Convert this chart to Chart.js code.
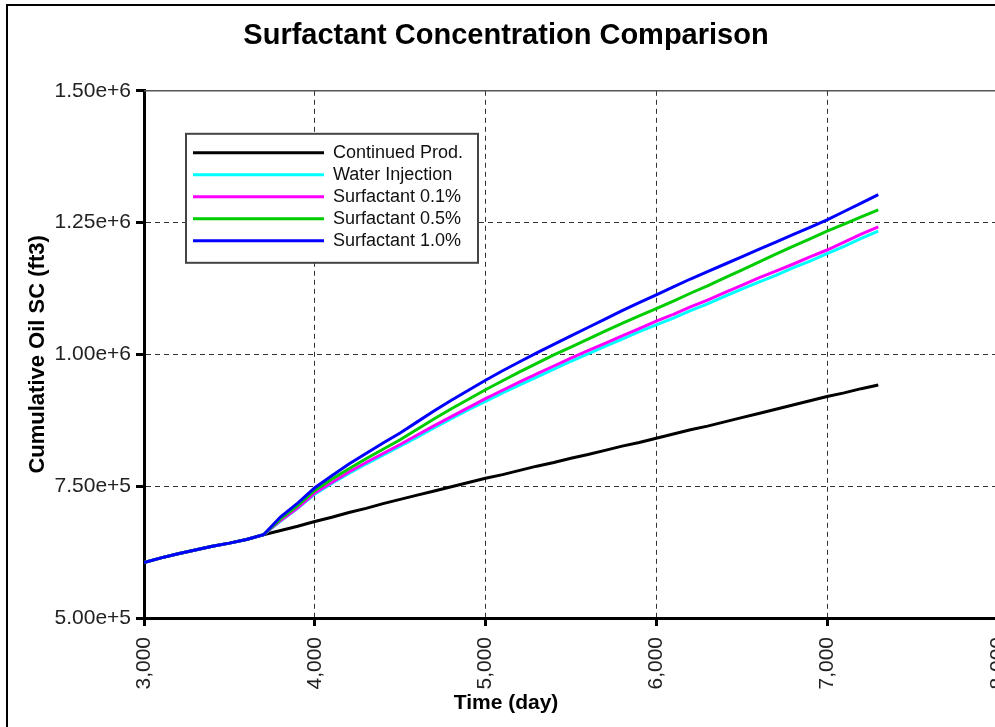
<!doctype html>
<html>

<head>
  <title>Surfactant Concentration Comparison</title>
  <script src="https://cdn.jsdelivr.net/npm/chart.js@4/dist/chart.umd.min.js"></script>
  <style>
    html, body { margin: 0; padding: 0; background: #fff; overflow: hidden; }
    #wrap { position: relative; width: 995px; height: 727px; overflow: hidden; }
    #canvas { display: block; }
    #frame {
      position: absolute; left: 6px; top: 4px; right: -10px; bottom: -10px;
      border-left: 2px solid #000; border-top: 2px solid #000;
      pointer-events: none;
    }
  </style>
</head>

<body>
  <div id="wrap">
    <canvas id="canvas" width="1034" height="727"></canvas>
    <div id="frame"></div>
  </div>

  <script>
    var chartTitle = "Surfactant Concentration Comparison";
    var xTitle = "Time (day)";
    var yTitle = "Cumulative Oil SC (ft3)";

    var days = [3000, 3100, 3200, 3300, 3400, 3500, 3600, 3700, 3800, 3900,
                4000, 4100, 4200, 4300, 4400, 4500, 4600, 4700, 4800, 4900,
                5000, 5100, 5200, 5300, 5400, 5500, 5600, 5700, 5800, 5900,
                6000, 6100, 6200, 6300, 6400, 6500, 6600, 6700, 6800, 6900,
                7000, 7100, 7200, 7300];

    var continuedProd = [605000, 614000, 622000, 629000, 636000, 642000, 649000, 658000, 666000, 674000,
                         683000, 691000, 700000, 708000, 717000, 725000, 733000, 741000, 749000, 757000,
                         765000, 772000, 780000, 788000, 795000, 803000, 810000, 818000, 826000, 833000,
                         841000, 849000, 857000, 864000, 872000, 880000, 888000, 896000, 904000, 912000,
                         920000, 927000, 935000, 942000];

    var waterInjection = [605000, 614000, 622000, 629000, 636000, 642000, 649000, 658000, 684000, 708000,
                          735000, 755000, 774000, 792000, 809000, 826000, 843000, 861000, 878000, 895000,
                          911000, 927000, 942000, 957000, 972000, 987000, 1001000, 1015000, 1029000, 1043000,
                          1056000, 1069000, 1083000, 1096000, 1110000, 1124000, 1137000, 1150000, 1164000, 1177000,
                          1191000, 1205000, 1220000, 1234000];

    var surf01 = [605000, 614000, 622000, 629000, 636000, 642000, 649000, 658000, 685000, 709000,
                  737000, 757000, 777000, 795000, 812000, 829000, 847000, 865000, 882000, 899000,
                  916000, 932000, 948000, 963000, 978000, 993000, 1007000, 1021000, 1035000, 1049000,
                  1063000, 1076000, 1090000, 1103000, 1117000, 1131000, 1145000, 1158000, 1171000, 1185000,
                  1198000, 1213000, 1228000, 1242000];

    var surf05 = [605000, 614000, 622000, 629000, 636000, 642000, 649000, 658000, 688000, 713000,
                  742000, 763000, 783000, 802000, 820000, 838000, 858000, 878000, 897000, 915000,
                  933000, 950000, 967000, 983000, 999000, 1014000, 1029000, 1044000, 1059000, 1073000,
                  1087000, 1101000, 1116000, 1130000, 1145000, 1160000, 1175000, 1190000, 1205000, 1219000,
                  1234000, 1247000, 1261000, 1274000];

    var surf10 = [605000, 614000, 622000, 629000, 636000, 642000, 649000, 658000, 692000, 718000,
                  747000, 770000, 792000, 812000, 832000, 851000, 872000, 893000, 913000, 932000,
                  951000, 969000, 986000, 1003000, 1019000, 1035000, 1051000, 1067000, 1083000, 1098000,
                  1113000, 1128000, 1143000, 1157000, 1171000, 1185000, 1199000, 1213000, 1227000, 1241000,
                  1255000, 1271000, 1287000, 1303000];

    var seriesNames = ["Continued Prod.", "Water Injection", "Surfactant 0.1%", "Surfactant 0.5%", "Surfactant 1.0%"];
    var seriesColors = ["#000000", "#00ffff", "#ff00ff", "#00cc00", "#0000ff"];
    var seriesValues = [continuedProd, waterInjection, surf01, surf05, surf10];

    var xMin = 3000, xMax = 8000, xStep = 1000;
    var yMin = 500000, yMax = 1500000, yStep = 250000;

    var FONT = "'Liberation Sans', Arial, sans-serif";

    function toPoints(values) {
      return values.map(function (v, i) { return { x: days[i], y: v }; });
    }

    var datasets = seriesValues.map(function (values, i) {
      return {
        label: seriesNames[i],
        data: toPoints(values),
        borderColor: seriesColors[i],
        backgroundColor: seriesColors[i],
        borderWidth: 3,
        pointRadius: 0,
        tension: 0,
        fill: false,
        order: seriesValues.length - i
      };
    });

    // legend box drawn inside the plot, like the original
    var boxLegend = {
      id: 'boxLegend',
      afterDraw: function (chart) {
        var ctx = chart.ctx, area = chart.chartArea;
        var x = area.left + 42, y = area.top + 43, w = 292, h = 129;
        ctx.save();
        ctx.fillStyle = '#fff';
        ctx.fillRect(x, y, w, h);
        ctx.strokeStyle = '#444';
        ctx.lineWidth = 2;
        ctx.strokeRect(x, y, w, h);
        ctx.font = '18px ' + FONT;
        ctx.textBaseline = 'middle';
        ctx.textAlign = 'left';
        chart.data.datasets.forEach(function (ds, i) {
          var ly = y + 19 + i * 22;
          ctx.strokeStyle = ds.borderColor;
          ctx.lineWidth = 3;
          ctx.beginPath();
          ctx.moveTo(x + 7, ly);
          ctx.lineTo(x + 138, ly);
          ctx.stroke();
          ctx.fillStyle = '#111';
          ctx.fillText(ds.label, x + 147, ly);
        });
        ctx.restore();
      }
    };

    // top frame line of the plot and the x axis title
    var extras = {
      id: 'extras',
      afterDraw: function (chart) {
        var ctx = chart.ctx, area = chart.chartArea;
        ctx.save();
        ctx.strokeStyle = '#555';
        ctx.lineWidth = 1.5;
        ctx.beginPath();
        ctx.moveTo(area.left, area.top);
        ctx.lineTo(area.right, area.top);
        ctx.stroke();

        var tb = chart.titleBlock;
        var cx = tb ? (tb.left + tb.right) / 2 : chart.width / 2;
        ctx.font = 'bold 21px ' + FONT;
        ctx.fillStyle = '#000';
        ctx.textAlign = 'center';
        ctx.textBaseline = 'middle';
        ctx.fillText(xTitle, cx, 703);
        ctx.restore();
      }
    };

    var chart = new Chart("canvas", {
      type: 'line',
      data: { datasets: datasets },
      plugins: [boxLegend, extras],
      options: {
        responsive: false,
        animation: false,
        layout: { padding: { left: 12, right: 34, top: 0, bottom: 0 } },
        plugins: {
          legend: { display: false },
          tooltip: { enabled: false },
          title: {
            display: true,
            text: chartTitle,
            color: '#000',
            font: { family: FONT, size: 29, weight: 'bold' },
            padding: { top: 19, bottom: 37 }
          }
        },
        scales: {
          x: {
            type: 'linear',
            min: xMin,
            max: xMax,
            afterFit: function (scale) { scale.height = 109; },
            ticks: {
              stepSize: xStep,
              autoSkip: false,
              minRotation: 90,
              maxRotation: 90,
              padding: 11,
              color: '#222',
              font: { family: FONT, size: 21 },
              callback: function (v) { return v.toLocaleString('en-US'); }
            },
            grid: {
              color: function (c) { return c.tick && c.tick.value === xMin ? 'transparent' : '#333'; },
              lineWidth: 1,
              tickLength: 8,
              tickWidth: 3,
              tickColor: '#000',
              tickBorderDash: []
            },
            border: { display: true, color: '#000', width: 3, dash: [5, 4] }
          },
          y: {
            min: yMin,
            max: yMax,
            afterFit: function (scale) { scale.width = 132; },
            ticks: {
              stepSize: yStep,
              padding: 5,
              color: '#222',
              font: { family: FONT, size: 21 },
              callback: function (v) { return v.toExponential(2); }
            },
            grid: {
              color: function (c) {
                if (!c.tick) return '#333';
                return (c.tick.value === yMin || c.tick.value === yMax) ? 'transparent' : '#333';
              },
              lineWidth: 1,
              tickLength: 8,
              tickWidth: 3,
              tickColor: '#000',
              tickBorderDash: []
            },
            border: { display: true, color: '#000', width: 3, dash: [5, 4] },
            title: {
              display: true,
              text: yTitle,
              color: '#000',
              font: { family: FONT, size: 22, weight: 'bold' },
              padding: { top: 13, bottom: 0 }
            }
          }
        }
      }
    });
  </script>
</body>

</html>
